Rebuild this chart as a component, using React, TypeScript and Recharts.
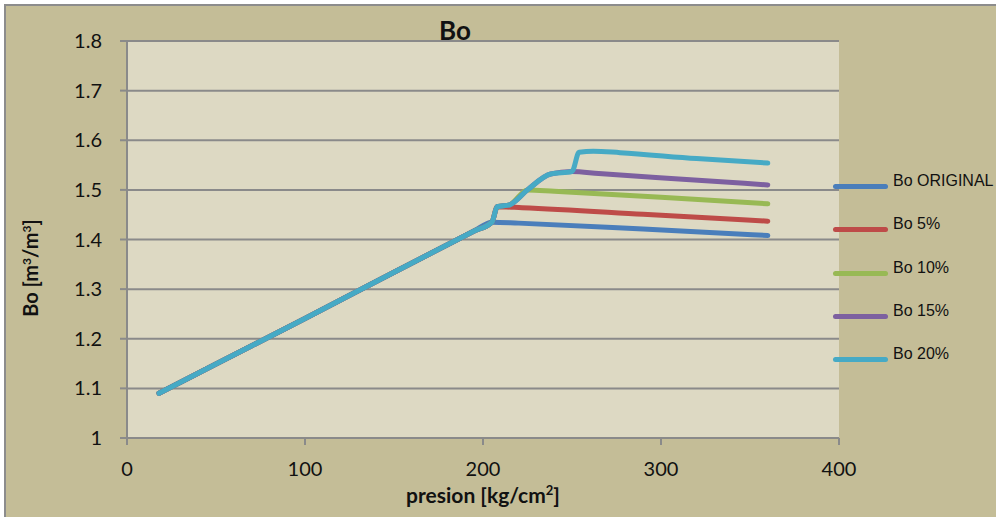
import { LineChart, Line, XAxis, YAxis, CartesianGrid, Legend } from 'recharts';

// pressure (kg/cm2) and Bo (m3/m3) per series
const presionOriginal = [18, 50, 100, 150, 195, 205, 220, 290, 360];
const boOriginal = [1.09, 1.149, 1.241, 1.334, 1.417, 1.435, 1.433, 1.421, 1.408];

const presion5 = [18, 50, 100, 150, 195, 205, 208, 222, 290, 360];
const bo5 = [1.09, 1.149, 1.241, 1.334, 1.417, 1.435, 1.466, 1.464, 1.451, 1.437];

const presion10 = [18, 50, 100, 150, 195, 205, 208, 215, 225, 240, 300, 360];
const bo10 = [1.09, 1.149, 1.241, 1.334, 1.417, 1.435, 1.466, 1.47, 1.5, 1.497, 1.485, 1.472];

const presion15 = [18, 50, 100, 150, 195, 205, 208, 215, 225, 238, 250, 265, 310, 360];
const bo15 = [1.09, 1.149, 1.241, 1.334, 1.417, 1.435, 1.466, 1.47, 1.5, 1.532, 1.537, 1.533, 1.522, 1.51];

const presion20 = [18, 50, 100, 150, 195, 205, 208, 215, 225, 238, 250, 254, 262, 277, 320, 360];
const bo20 = [1.09, 1.149, 1.241, 1.334, 1.417, 1.435, 1.466, 1.47, 1.5, 1.532, 1.537, 1.576, 1.578, 1.575, 1.563, 1.554];

const xTicks = [0, 100, 200, 300, 400];
const yTicks = [1, 1.1, 1.2, 1.3, 1.4, 1.5, 1.6, 1.7, 1.8];

const zip = (p: number[], b: number[]) => p.map((v, i) => ({ p: v, bo: b[i] }));

const series = [
  { name: 'Bo ORIGINAL', color: '#4A7EBB', data: zip(presionOriginal, boOriginal) },
  { name: 'Bo 5%', color: '#BE4B48', data: zip(presion5, bo5) },
  { name: 'Bo 10%', color: '#98B954', data: zip(presion10, bo10) },
  { name: 'Bo 15%', color: '#7D60A0', data: zip(presion15, bo15) },
  { name: 'Bo 20%', color: '#46AAC5', data: zip(presion20, bo20) },
];

const FONT = 'Lato, "Open Sans", sans-serif';

const LegendBox = () => (
  <div style={{ fontFamily: '"Liberation Sans", Arial, sans-serif', fontSize: 16, color: '#111' }}>
    {series.map((s) => (
      <div key={s.name} style={{ position: 'relative', height: 43.3 }}>
        <div style={{ position: 'absolute', left: 0, top: 8, width: 55, height: 5, borderRadius: 3, background: s.color }} />
        <div style={{ position: 'absolute', left: 60, top: -4, whiteSpace: 'nowrap' }}>{s.name}</div>
      </div>
    ))}
  </div>
);

export default function App() {
  return (
    <div style={{ position: 'absolute', left: 0, top: 0, width: 996, height: 517, background: '#fff', overflow: 'hidden' }}>
      <div style={{ position: 'absolute', left: 4, top: 4, width: 1000, height: 520, border: '2px solid #8c8c8c', background: '#C4BD97' }} />
      <div style={{ position: 'absolute', left: 0, top: 0 }}>
        <LineChart width={996} height={517} margin={{ top: 41, right: 157, bottom: 39, left: 0 }}>
          <CartesianGrid vertical={false} fill="#DDD9C3" stroke="#8a8a8a" strokeWidth={2} fillOpacity={1} />
          <XAxis
            type="number"
            dataKey="p"
            domain={[0, 400]}
            ticks={xTicks}
            height={40}
            stroke="#8a8a8a"
            strokeWidth={2}
            tickSize={7}
            tickMargin={17}
            tick={{ fill: '#111', fontSize: 20, fontFamily: FONT }}
            allowDuplicatedCategory={false}
            label={{
              content: () => (
                <text x={483} y={503} textAnchor="middle" fontFamily={FONT} fontWeight="bold" fontSize={21} fill="#111">
                  presion [kg/cm<tspan baselineShift="super" fontSize={13}>2</tspan>]
                </text>
              ),
            }}
          />
          <YAxis
            type="number"
            domain={[1, 1.8]}
            ticks={yTicks}
            width={127}
            stroke="#8a8a8a"
            strokeWidth={2}
            tickSize={7}
            tickMargin={18}
            tick={{ fill: '#111', fontSize: 20, fontFamily: FONT }}
            tickFormatter={(v: number) => String(+v.toFixed(1))}
            label={{
              content: () => (
                <text x={38} y={268} textAnchor="middle" transform="rotate(-90 38 268)" fontFamily={FONT} fontWeight="bold" fontSize={20} fill="#111">
                  Bo [m<tspan baselineShift="super" fontSize={12}>3</tspan>/m<tspan baselineShift="super" fontSize={12}>3</tspan>]
                </text>
              ),
            }}
          />
          {series.map((s) => (
            <Line
              key={s.name}
              data={s.data}
              dataKey="bo"
              name={s.name}
              type="monotone"
              stroke={s.color}
              strokeWidth={5}
              strokeLinecap="round"
              strokeLinejoin="round"
              dot={false}
              activeDot={false}
              isAnimationActive={false}
            />
          ))}
          <Legend
            layout="horizontal"
            verticalAlign="middle"
            align="center"
            content={<LegendBox />}
            wrapperStyle={{ left: 833, top: 176, width: 163, right: 'auto', bottom: 'auto' }}
          />
        </LineChart>
      </div>
      <div style={{ position: 'absolute', left: 455, top: 43, transform: 'translate(-50%, -100%)', fontFamily: FONT, fontWeight: 'bold', fontSize: 26, lineHeight: '26px', color: '#111' }}>
        Bo
      </div>
    </div>
  );
}
